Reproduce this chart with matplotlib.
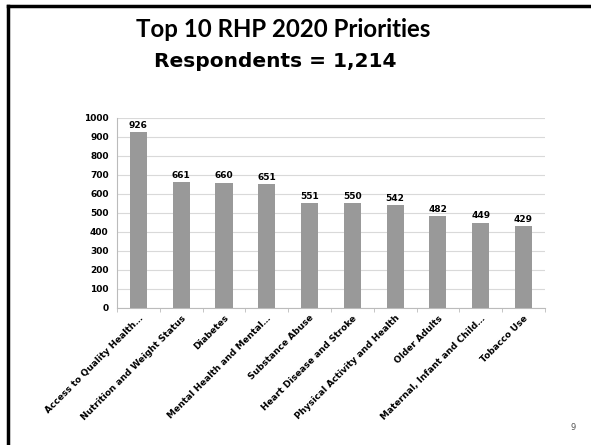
import matplotlib.pyplot as plt
from matplotlib.lines import Line2D
import numpy as np

categories = ["Access to Quality Health\u2026", "Nutrition and Weight Status", "Diabetes",
              "Mental Health and Mental\u2026", "Substance Abuse", "Heart Disease and Stroke",
              "Physical Activity and Health", "Older Adults", "Maternal, Infant and Child\u2026",
              "Tobacco Use"]
counts = [926, 661, 660, 651, 551, 550, 542, 482, 449, 429]
yticks = list(range(0, 1001, 100))

fig = plt.figure(figsize=(5.91, 4.45), dpi=100)

# slide frame (left and top edges only)
fig.add_artist(Line2D([0.0135, 0.0135], [0, 0.987], transform=fig.transFigure, color="black", lw=2.5))
fig.add_artist(Line2D([0.0135, 1.0], [0.987, 0.987], transform=fig.transFigure, color="black", lw=2.5))

fig.text(0.479, 0.933, "Top 10 RHP 2020 Priorities", ha="center", va="center",
         fontsize=17.3, fontweight="bold", family="Lato")
fig.text(0.466, 0.861, "Respondents = 1,214", ha="center", va="center",
         fontsize=14.5, fontweight="bold", family="DejaVu Sans")
fig.text(0.97, 0.04, "9", ha="center", va="center", fontsize=6, color="#555555")

ax = fig.add_axes([0.198, 0.308, 0.724, 0.427])
x = np.arange(len(categories))
bars = ax.bar(x, counts, width=0.4, color="#999999", zorder=3)
for b, v in zip(bars, counts):
    ax.text(b.get_x() + b.get_width() / 2, v + 12, str(v), ha="center", va="bottom",
            fontsize=6.5, fontweight="bold")

ax.set_xlim(-0.5, len(categories) - 0.5)
ax.set_ylim(0, 1000)
ax.set_yticks(yticks)
ax.set_yticklabels([str(t) for t in yticks], fontsize=6.5, fontweight="bold")
ax.yaxis.grid(True, color="#d9d9d9", lw=0.8, zorder=0)
ax.tick_params(axis="y", length=0, pad=6)

ax.set_xticks(x)
ax.set_xticklabels(categories, rotation=45, ha="right", rotation_mode="anchor",
                   fontsize=6.5, fontweight="bold")
ax.tick_params(axis="x", which="major", length=0, pad=4)
ax.set_xticks(np.arange(-0.5, len(categories)), minor=True)
ax.tick_params(axis="x", which="minor", length=3, color="#bbbbbb")

for s in ["top", "right"]:
    ax.spines[s].set_visible(False)
ax.spines["left"].set_color("#bbbbbb")
ax.spines["bottom"].set_color("#bbbbbb")

fig.savefig("out.png", dpi=100)
